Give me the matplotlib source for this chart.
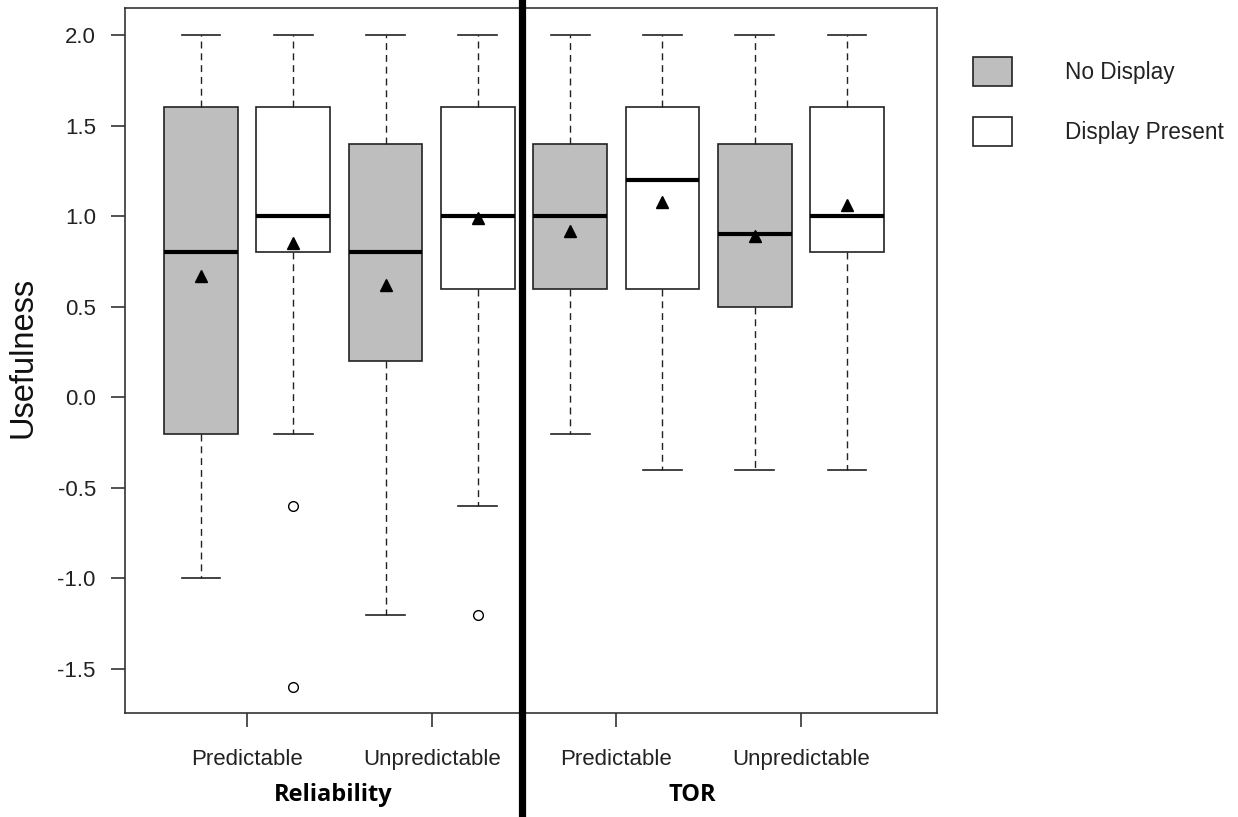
import matplotlib
matplotlib.use("Agg")
import matplotlib.pyplot as plt
from matplotlib.lines import Line2D
from matplotlib.patches import Rectangle

plt.rcParams['font.family'] = ['Liberation Sans', 'DejaVu Sans']

# ---- data ----
groups = ["Reliability", "Reliability", "Reliability", "Reliability", "TOR", "TOR", "TOR", "TOR"]
conditions = ["Predictable", "Predictable", "Unpredictable", "Unpredictable",
              "Predictable", "Predictable", "Unpredictable", "Unpredictable"]
display = ["No Display", "Display Present"] * 4
whislo = [-1.0, -0.2, -1.2, -0.6, -0.2, -0.4, -0.4, -0.4]
q1     = [-0.2, 0.8, 0.2, 0.6, 0.6, 0.6, 0.5, 0.8]
med    = [0.8, 1.0, 0.8, 1.0, 1.0, 1.2, 0.9, 1.0]
q3     = [1.6, 1.6, 1.4, 1.6, 1.4, 1.6, 1.4, 1.6]
whishi = [2.0, 2.0, 2.0, 2.0, 2.0, 2.0, 2.0, 2.0]
means  = [0.67, 0.85, 0.62, 0.99, 0.92, 1.08, 0.89, 1.06]
fliers = [[], [-0.6, -1.6], [], [-1.2], [], [], [], []]
tick_labels = ["Predictable", "Unpredictable", "Predictable", "Unpredictable"]
yticks = [-1.5, -1.0, -0.5, 0.0, 0.5, 1.0, 1.5, 2.0]
legend_labels = ["No Display", "Display Present"]
fill_colors = {"No Display": "#bebebe", "Display Present": "white"}

fig = plt.figure(figsize=(12.38, 8.17), dpi=100)
ax = fig.add_axes([125/1238, 1-713/817, (937-125)/1238, (713-8)/817])

positions = list(range(1, 9))
stats = []
for i in range(8):
    stats.append(dict(whislo=whislo[i], q1=q1[i], med=med[i], q3=q3[i],
                      whishi=whishi[i], fliers=fliers[i], mean=means[i]))

edge = "#222222"
bp = ax.bxp(stats, positions=positions, widths=0.8, patch_artist=True,
            showmeans=True, showfliers=True,
            boxprops=dict(edgecolor=edge, linewidth=1.2),
            medianprops=dict(color="black", linewidth=3.0, solid_capstyle="butt"),
            whiskerprops=dict(color=edge, linewidth=1.0, linestyle=(0, (5, 3.5))),
            capprops=dict(color=edge, linewidth=1.2),
            capwidths=0.42,
            meanprops=dict(marker="^", markerfacecolor="black", markeredgecolor="black",
                           markersize=8),
            flierprops=dict(marker="o", markerfacecolor="white", markeredgecolor="black",
                            markersize=7, markeredgewidth=1.0))
for patch, d in zip(bp["boxes"], display):
    patch.set_facecolor(fill_colors[d])

ax.set_xlim(1 - 76/92.3, 8 + 90/92.3)
ax.set_ylim(-1.5 - 44/181.1, 2.0 + 27/181.1)
ax.set_yticks(yticks)
ax.set_yticklabels([f"{v:.1f}" for v in yticks])
tick_pos = [1.5, 3.5, 5.5, 7.5]
ax.set_xticks(tick_pos)
ax.set_xticklabels(tick_labels)
ax.tick_params(axis="both", labelsize=16, length=10, width=1.2, color="#333333",
               labelcolor="#222222")
ax.tick_params(axis="x", pad=16)
ax.tick_params(axis="y", pad=11)
for s in ax.spines.values():
    s.set_linewidth(1.2)
    s.set_color("#333333")

# y label
fig.text(23/1238, 1-357/817, "Usefulness", rotation=90, ha="center", va="center",
         fontsize=23.5, color="#111111")

# group labels
fig.text(333/1238, 1-795/817, "Reliability", ha="center", va="center",
         fontsize=17, fontweight="bold", family=["Open Sans", "DejaVu Sans"])
fig.text(692/1238, 1-795/817, "TOR", ha="center", va="center",
         fontsize=17, fontweight="bold", family=["Open Sans", "DejaVu Sans"])

# divider line
fig.add_artist(Line2D([522/1238, 522/1238], [0, 1], color="black", linewidth=5.2))

# legend
for j, lab in enumerate(legend_labels):
    ytop = [57, 117][j]
    fig.add_artist(Rectangle((973/1238, 1-(ytop+29)/817), 39/1238, 29/817,
                             facecolor=fill_colors[lab], edgecolor=edge, linewidth=1.2,
                             transform=fig.transFigure))
    fig.text(1065/1238, 1-(ytop+16)/817, lab, ha="left", va="center", fontsize=16.3,
             color="#222222")

fig.savefig("out.png", dpi=100)
